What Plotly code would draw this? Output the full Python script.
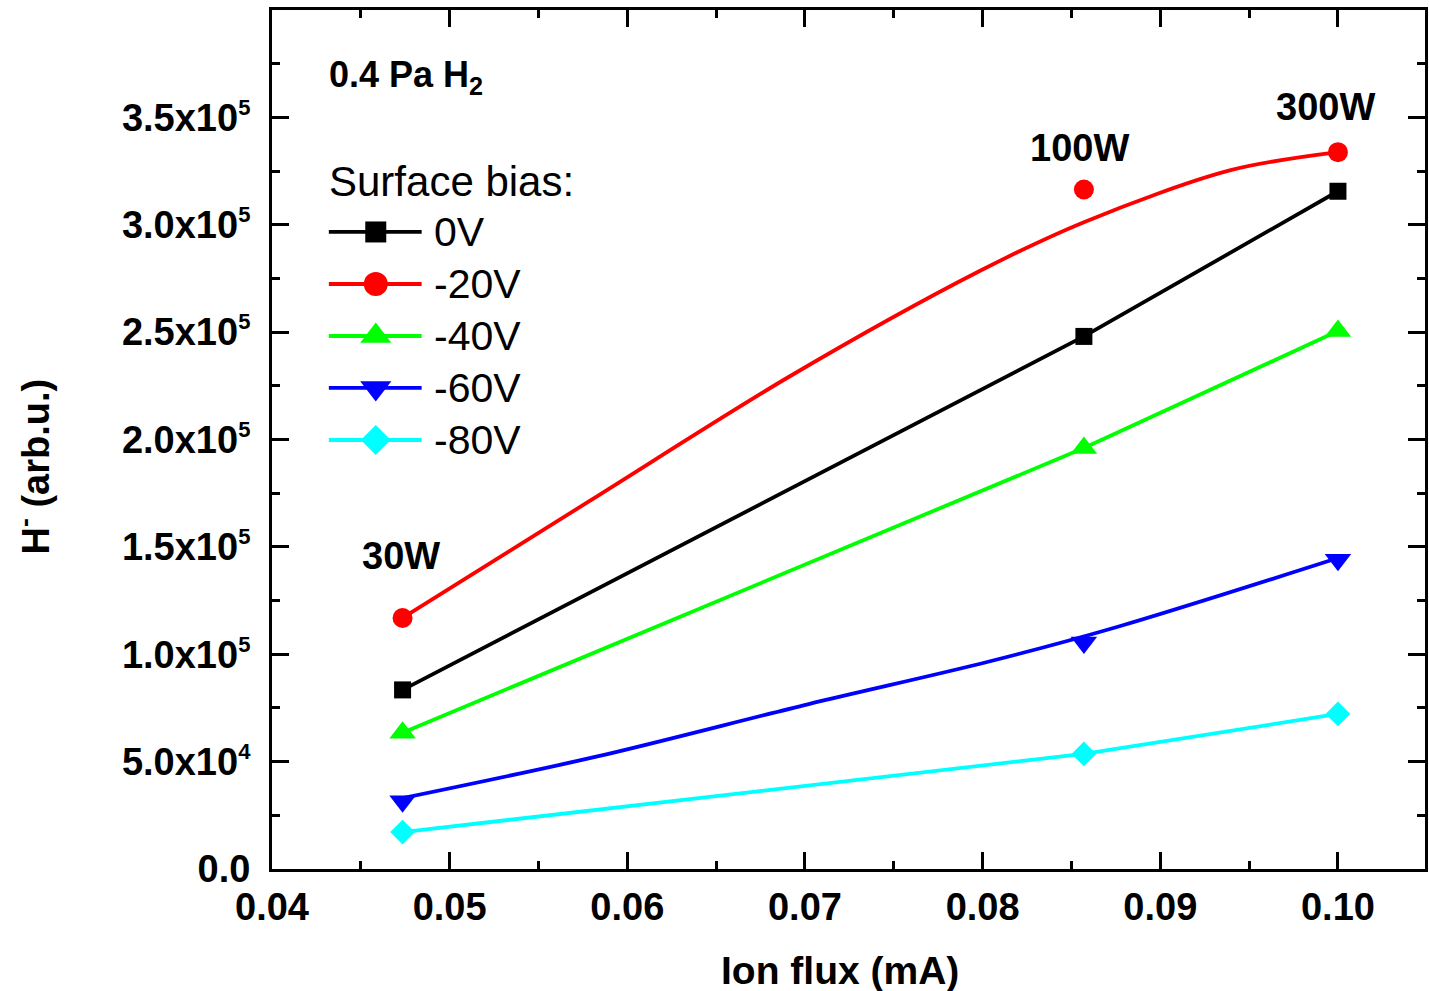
import plotly.graph_objects as go

# Ion flux (mA) at 30 W, 100 W and 300 W discharge power
ion_flux = [0.04735, 0.0857, 0.1000]
power_labels = ["30W", "100W", "300W"]

# H- signal (arb.u.) for each surface bias
h_0v = [83.4e3, 248.0e3, 315.6e3]
h_20v = [116.9e3, 316.4e3, 333.8e3]
h_40v = [63.5e3, 196.0e3, 250.5e3]
h_60v = [31.5e3, 105.5e3, 144.0e3]
h_80v = [17.2e3, 53.6e3, 72.2e3]

# smoothed trend curves for -20 V and -60 V
fit20_x = [0.04735, 0.05786, 0.06908, 0.07975, 0.0857, 0.09396, 0.1000]
fit20_y = [116.9e3, 171.3e3, 229.1e3, 278.1e3, 301.2e3, 325.4e3, 333.8e3]
fit60_x = [0.04735, 0.05825, 0.07021, 0.08031, 0.08761, 0.1000]
fit60_y = [33.0e3, 52.3e3, 76.8e3, 96.5e3, 112.8e3, 144.8e3]

bias_names = ["0V", "-20V", "-40V", "-60V", "-80V"]
bias_colors = ["#000000", "#FF0000", "#00FF00", "#0000FF", "#00FFFF"]
bias_symbols = ["square", "circle", "triangle-up", "triangle-down", "diamond"]
bias_sizes = [17, 20, 23, 23, 19]

y_tickvals = [0, 5e4, 1e5, 1.5e5, 2e5, 2.5e5, 3e5, 3.5e5]
y_ticktext = ["0.0"] + [
    f"{m}x10<sup><span style='font-size:22px'>{e}</span></sup>"
    for m, e in [("5.0", 4), ("1.0", 5), ("1.5", 5), ("2.0", 5),
                 ("2.5", 5), ("3.0", 5), ("3.5", 5)]
]

FONT = "Liberation Sans, Arial, sans-serif"
W, H = 1429, 991
ML, MR, MT, MB = 272, 1, 10, 122
LW = 3.8

fig = go.Figure()

series = [h_0v, h_20v, h_40v, h_60v, h_80v]
fitted = {1: (fit20_x, fit20_y), 3: (fit60_x, fit60_y)}

# trend lines first so the symbols sit on top
for i, ys in enumerate(series):
    if i in fitted:
        fx, fy = fitted[i]
        fig.add_trace(go.Scatter(
            x=fx, y=fy, mode="lines",
            line=dict(color=bias_colors[i], width=LW, shape="spline",
                      smoothing=0.9),
            showlegend=False, hoverinfo="skip"))

for i, ys in enumerate(series):
    mode = "markers" if i in fitted else "lines+markers"
    fig.add_trace(go.Scatter(
        x=ion_flux, y=ys, mode=mode, name=bias_names[i],
        line=dict(color=bias_colors[i], width=LW),
        marker=dict(symbol=bias_symbols[i], size=bias_sizes[i],
                    color=bias_colors[i], line=dict(width=0)),
        showlegend=False))

# hand-built legend on an overlay axis spanning the plot area
leg_x0, leg_xm, leg_x1 = 0.0493, 0.0900, 0.1298
leg_rows = [0.7416, 0.6810, 0.6205, 0.5600, 0.4994]
for i, ry in enumerate(leg_rows):
    fig.add_trace(go.Scatter(
        x=[leg_x0, leg_xm, leg_x1], y=[ry, ry, ry], mode="lines",
        line=dict(color=bias_colors[i], width=LW),
        xaxis="x2", yaxis="y2", showlegend=False, hoverinfo="skip"))
    fig.add_trace(go.Scatter(
        x=[leg_xm], y=[ry], mode="markers",
        marker=dict(symbol=bias_symbols[i], size=bias_sizes[i] + 4,
                    color=bias_colors[i], line=dict(width=0)),
        xaxis="x2", yaxis="y2", showlegend=False, hoverinfo="skip"))
    fig.add_annotation(
        x=0.139, y=ry, xref="paper", yref="paper", text=bias_names[i],
        showarrow=False, xanchor="left", yanchor="middle",
        font=dict(family=FONT, size=41, color="black"))

fig.add_annotation(
    x=0.0475, y=0.8005, xref="paper", yref="paper", text="Surface bias:",
    showarrow=False, xanchor="left", yanchor="middle",
    font=dict(family=FONT, size=42, color="black"))
fig.add_annotation(
    x=0.0475, y=0.9225, xref="paper", yref="paper",
    text="<b>0.4 Pa H<sub>2</sub></b>",
    showarrow=False, xanchor="left", yanchor="middle",
    font=dict(family=FONT, size=36, color="black"))

# power labels next to the data columns
power_pos = [(ion_flux[0], h_20v[0], -2, 62), (ion_flux[1], h_20v[1], -4, 42),
             (ion_flux[2], h_20v[2], -12, 45)]
for lbl, (px, py, dx, dy) in zip(power_labels, power_pos):
    fig.add_annotation(
        x=px, y=py, text=f"<b>{lbl}</b>", showarrow=False,
        xanchor="center", yanchor="middle", xshift=dx, yshift=dy,
        font=dict(family=FONT, size=38, color="black"))

# axis titles
fig.add_annotation(
    x=0.493, y=-0.091, xref="paper", yref="paper",
    text="<b>Ion flux (mA)</b>", showarrow=False,
    xanchor="center", yanchor="top",
    font=dict(family=FONT, size=39, color="black"))
fig.add_annotation(
    x=-0.207, y=0.469, xref="paper", yref="paper",
    text="<b>H<sup>-</sup> (arb.u.)</b>", showarrow=False, textangle=-90,
    xanchor="center", yanchor="middle",
    font=dict(family=FONT, size=38, color="black"))

axis_common = dict(
    showline=True, linecolor="black", linewidth=3, mirror="ticks",
    ticks="inside", ticklen=17, tickwidth=3, tickcolor="black",
    showgrid=False, zeroline=False,
    tickfont=dict(family=FONT, size=38, color="black", weight="bold"),
)

fig.update_layout(
    width=W, height=H,
    margin=dict(l=ML, r=MR, t=MT, b=MB),
    paper_bgcolor="white", plot_bgcolor="white",
    showlegend=False,
    xaxis=dict(
        range=[0.04, 0.1049], tickvals=[0.04, 0.05, 0.06, 0.07, 0.08, 0.09, 0.10],
        tickformat=".2f", ticklabelstandoff=2,
        minor=dict(ticks="inside", ticklen=8, tickwidth=3, tickcolor="black",
                   dtick=0.005, tick0=0.04, showgrid=False),
        **axis_common),
    yaxis=dict(
        range=[0, 4.0e5], tickvals=y_tickvals, ticktext=y_ticktext,
        ticklabelstandoff=11,
        minor=dict(ticks="inside", ticklen=8, tickwidth=3, tickcolor="black",
                   dtick=2.5e4, tick0=0, showgrid=False),
        **axis_common),
    xaxis2=dict(range=[0, 1], overlaying="x", visible=False, fixedrange=True),
    yaxis2=dict(range=[0, 1], overlaying="y", visible=False, fixedrange=True),
)

fig.write_html("out.html")
